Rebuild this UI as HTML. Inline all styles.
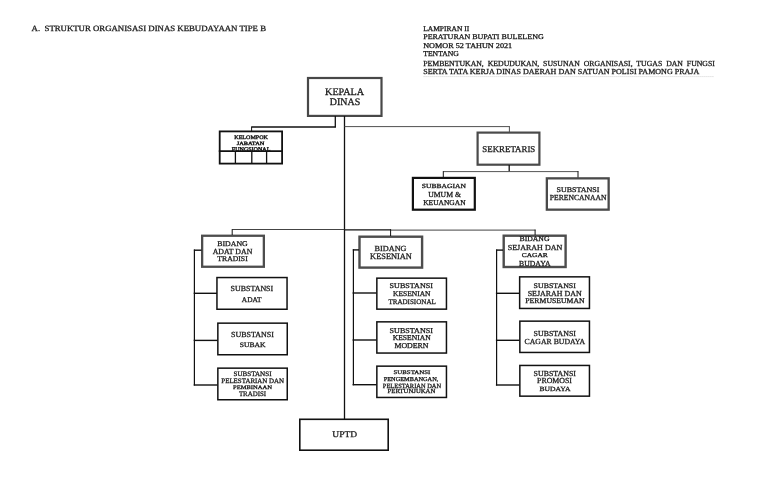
<!DOCTYPE html><html><head><meta charset="utf-8"><style>html,body{margin:0;padding:0;background:#fff;width:770px;height:480px;overflow:hidden}svg{display:block}text{font-family:"Liberation Serif",serif;white-space:pre;text-rendering:geometricPrecision}svg{will-change:transform}</style></head><body>
<svg width="770" height="480" viewBox="0 0 770 480">
<rect x="0" y="0" width="770" height="480" fill="#fff"/>
<line x1="423.5" y1="76.6" x2="714" y2="76.6" stroke="#c8c8c8" stroke-width="0.7" stroke-dasharray="1.2 0.8"/>
<rect x="308.00" y="78.00" width="73.50" height="37.90" fill="none" stroke="#484848" stroke-width="2.2"/>
<rect x="219.70" y="131.40" width="62.40" height="32.20" fill="none" stroke="#111" stroke-width="1.8"/>
<rect x="477.60" y="132.60" width="61.80" height="32.10" fill="none" stroke="#4a4a4a" stroke-width="2.2"/>
<rect x="412.90" y="177.90" width="61.90" height="31.80" fill="none" stroke="#111" stroke-width="2.2"/>
<rect x="546.85" y="178.35" width="61.80" height="31.30" fill="none" stroke="#4a4a4a" stroke-width="2.3"/>
<rect x="202.15" y="235.75" width="61.70" height="31.00" fill="none" stroke="#4d4d4d" stroke-width="2.3"/>
<rect x="359.50" y="236.70" width="62.60" height="30.90" fill="none" stroke="#4d4d4d" stroke-width="2.4"/>
<rect x="503.70" y="235.70" width="61.90" height="31.30" fill="none" stroke="#4d4d4d" stroke-width="2.4"/>
<rect x="216.95" y="277.55" width="70.10" height="31.70" fill="none" stroke="#111" stroke-width="1.5"/>
<rect x="217.85" y="323.15" width="69.40" height="31.60" fill="none" stroke="#111" stroke-width="1.5"/>
<rect x="217.85" y="368.15" width="69.40" height="31.60" fill="none" stroke="#111" stroke-width="1.5"/>
<rect x="376.85" y="278.15" width="69.60" height="31.00" fill="none" stroke="#111" stroke-width="1.5"/>
<rect x="376.85" y="321.85" width="69.60" height="31.20" fill="none" stroke="#111" stroke-width="1.5"/>
<rect x="376.85" y="366.15" width="69.60" height="31.30" fill="none" stroke="#111" stroke-width="1.5"/>
<rect x="519.65" y="276.85" width="69.80" height="31.60" fill="none" stroke="#111" stroke-width="1.5"/>
<rect x="519.85" y="321.15" width="69.60" height="31.30" fill="none" stroke="#111" stroke-width="1.5"/>
<rect x="519.85" y="365.45" width="69.60" height="30.70" fill="none" stroke="#111" stroke-width="1.5"/>
<rect x="299.80" y="419.30" width="88.40" height="30.90" fill="none" stroke="#111" stroke-width="1.6"/>
<line x1="344.5" y1="116" x2="344.5" y2="419.5" stroke="#111" stroke-width="1.3"/>
<line x1="335.3" y1="116" x2="335.3" y2="127.2" stroke="#111" stroke-width="1.3"/>
<line x1="251.6" y1="127" x2="335.9" y2="127" stroke="#111" stroke-width="1.3"/>
<line x1="251.6" y1="126.5" x2="251.6" y2="131.5" stroke="#111" stroke-width="1.0"/>
<line x1="344.5" y1="126.6" x2="509.6" y2="126.6" stroke="#505050" stroke-width="1.0"/>
<line x1="509.4" y1="126.1" x2="509.4" y2="132" stroke="#505050" stroke-width="1.0"/>
<line x1="509.2" y1="165" x2="509.2" y2="171.6" stroke="#111" stroke-width="1.3"/>
<line x1="443.3" y1="171.6" x2="578.3" y2="171.6" stroke="#555" stroke-width="1.0"/>
<line x1="443.3" y1="171.1" x2="443.3" y2="177.5" stroke="#111" stroke-width="1.0"/>
<line x1="578.0" y1="171.1" x2="578.0" y2="177.5" stroke="#111" stroke-width="1.0"/>
<line x1="232.2" y1="229.5" x2="344.5" y2="229.5" stroke="#444" stroke-width="1.0"/>
<line x1="344.5" y1="229.8" x2="390.6" y2="229.8" stroke="#111" stroke-width="1.3"/>
<line x1="390.6" y1="230.1" x2="535.5" y2="230.1" stroke="#444" stroke-width="1.0"/>
<line x1="232.2" y1="229.1" x2="232.2" y2="235" stroke="#111" stroke-width="1.0"/>
<line x1="390.6" y1="229.1" x2="390.6" y2="236" stroke="#111" stroke-width="1.0"/>
<line x1="535.1" y1="229.6" x2="535.1" y2="235" stroke="#111" stroke-width="1.0"/>
<line x1="194.4" y1="249.5" x2="194.4" y2="385.6" stroke="#111" stroke-width="1.2"/>
<line x1="193.9" y1="250.2" x2="201.5" y2="250.2" stroke="#111" stroke-width="1.4"/>
<line x1="193.7" y1="293.3" x2="217" y2="293.3" stroke="#111" stroke-width="1.4"/>
<line x1="193.7" y1="340.4" x2="217.5" y2="340.4" stroke="#111" stroke-width="1.4"/>
<line x1="193.7" y1="385.0" x2="217.5" y2="385.0" stroke="#111" stroke-width="1.4"/>
<line x1="353.4" y1="249.3" x2="353.4" y2="385.3" stroke="#111" stroke-width="1.2"/>
<line x1="352.8" y1="249.9" x2="359" y2="249.9" stroke="#111" stroke-width="1.4"/>
<line x1="352.6" y1="293.0" x2="376.5" y2="293.0" stroke="#111" stroke-width="1.4"/>
<line x1="352.6" y1="340.0" x2="376.5" y2="340.0" stroke="#111" stroke-width="1.4"/>
<line x1="352.6" y1="384.7" x2="376.5" y2="384.7" stroke="#111" stroke-width="1.4"/>
<line x1="496.6" y1="249.5" x2="496.6" y2="385.6" stroke="#111" stroke-width="1.2"/>
<line x1="496.1" y1="250.1" x2="503" y2="250.1" stroke="#111" stroke-width="1.4"/>
<line x1="495.9" y1="293.3" x2="519.5" y2="293.3" stroke="#111" stroke-width="1.4"/>
<line x1="495.9" y1="340.3" x2="519.5" y2="340.3" stroke="#111" stroke-width="1.4"/>
<line x1="495.9" y1="385.0" x2="519.5" y2="385.0" stroke="#111" stroke-width="1.4"/>
<line x1="218.8" y1="151.1" x2="283" y2="151.1" stroke="#111" stroke-width="1.8"/>
<line x1="235.4" y1="151" x2="235.4" y2="164" stroke="#111" stroke-width="1.3"/>
<line x1="251.8" y1="151" x2="251.8" y2="164" stroke="#111" stroke-width="1.3"/>
<line x1="266.6" y1="151" x2="266.6" y2="164" stroke="#111" stroke-width="1.3"/>
<text x="31.60" y="30.90" font-size="8.09" textLength="234.40" lengthAdjust="spacingAndGlyphs" fill="#1a1a1a" stroke="#1a1a1a" stroke-width="0.28">A.  STRUKTUR ORGANISASI DINAS KEBUDAYAAN TIPE B</text>
<text x="423.20" y="30.60" font-size="7.33" textLength="46.10" lengthAdjust="spacingAndGlyphs" fill="#1a1a1a" stroke="#1a1a1a" stroke-width="0.28">LAMPIRAN II</text>
<text x="423.20" y="39.20" font-size="7.18" textLength="120.50" lengthAdjust="spacingAndGlyphs" fill="#1a1a1a" stroke="#1a1a1a" stroke-width="0.28">PERATURAN BUPATI BULELENG</text>
<text x="423.20" y="47.90" font-size="7.33" textLength="89.00" lengthAdjust="spacingAndGlyphs" fill="#1a1a1a" stroke="#1a1a1a" stroke-width="0.28">NOMOR 52 TAHUN 2021</text>
<text x="423.20" y="56.10" font-size="7.48" textLength="35.70" lengthAdjust="spacingAndGlyphs" fill="#1a1a1a" stroke="#1a1a1a" stroke-width="0.28">TENTANG</text>
<text x="423.20" y="65.50" font-size="7.76" textLength="291.70" lengthAdjust="spacingAndGlyphs" fill="#1a1a1a" stroke="#1a1a1a" stroke-width="0.28">PEMBENTUKAN,  KEDUDUKAN,  SUSUNAN  ORGANISASI,  TUGAS  DAN  FUNGSI</text>
<text x="423.20" y="73.50" font-size="7.63" textLength="276.10" lengthAdjust="spacingAndGlyphs" fill="#1a1a1a" stroke="#1a1a1a" stroke-width="0.28">SERTA TATA KERJA DINAS DAERAH DAN SATUAN POLISI PAMONG PRAJA</text>
<text x="325.10" y="94.80" font-size="10.12" textLength="39.00" lengthAdjust="spacingAndGlyphs" fill="#1a1a1a" stroke="#1a1a1a" stroke-width="0.28">KEPALA</text>
<text x="329.80" y="105.30" font-size="9.95" textLength="30.40" lengthAdjust="spacingAndGlyphs" fill="#1a1a1a" stroke="#1a1a1a" stroke-width="0.28">DINAS</text>
<text x="234.30" y="138.90" font-size="5.34" textLength="33.60" lengthAdjust="spacingAndGlyphs" fill="#1a1a1a" stroke="#1a1a1a" stroke-width="0.4">KELOMPOK</text>
<text x="236.80" y="145.00" font-size="4.89" textLength="27.50" lengthAdjust="spacingAndGlyphs" fill="#1a1a1a" stroke="#1a1a1a" stroke-width="0.4">JABATAN</text>
<text x="231.80" y="150.50" font-size="5.65" textLength="38.60" lengthAdjust="spacingAndGlyphs" fill="#1a1a1a" stroke="#1a1a1a" stroke-width="0.4">FUNGSIONAL</text>
<text x="482.30" y="151.60" font-size="8.85" textLength="53.00" lengthAdjust="spacingAndGlyphs" fill="#1a1a1a" stroke="#1a1a1a" stroke-width="0.28">SEKRETARIS</text>
<text x="421.80" y="187.60" font-size="6.26" textLength="44.10" lengthAdjust="spacingAndGlyphs" fill="#1a1a1a" stroke="#1a1a1a" stroke-width="0.28">SUBBAGIAN</text>
<text x="428.20" y="196.70" font-size="7.63" textLength="32.70" lengthAdjust="spacingAndGlyphs" fill="#1a1a1a" stroke="#1a1a1a" stroke-width="0.28">UMUM &amp;</text>
<text x="423.20" y="204.50" font-size="7.48" textLength="42.40" lengthAdjust="spacingAndGlyphs" fill="#1a1a1a" stroke="#1a1a1a" stroke-width="0.28">KEUANGAN</text>
<text x="556.60" y="192.20" font-size="7.18" textLength="42.80" lengthAdjust="spacingAndGlyphs" fill="#1a1a1a" stroke="#1a1a1a" stroke-width="0.28">SUBSTANSI</text>
<text x="549.80" y="199.90" font-size="7.63" textLength="56.80" lengthAdjust="spacingAndGlyphs" fill="#1a1a1a" stroke="#1a1a1a" stroke-width="0.28">PERENCANAAN</text>
<text x="217.30" y="245.60" font-size="7.18" textLength="30.40" lengthAdjust="spacingAndGlyphs" fill="#1a1a1a" stroke="#1a1a1a" stroke-width="0.28">BIDANG</text>
<text x="212.70" y="253.80" font-size="7.82" textLength="39.60" lengthAdjust="spacingAndGlyphs" fill="#1a1a1a" stroke="#1a1a1a" stroke-width="0.28">ADAT DAN</text>
<text x="217.30" y="260.70" font-size="7.33" textLength="30.40" lengthAdjust="spacingAndGlyphs" fill="#1a1a1a" stroke="#1a1a1a" stroke-width="0.28">TRADISI</text>
<text x="374.60" y="250.60" font-size="7.79" textLength="31.90" lengthAdjust="spacingAndGlyphs" fill="#1a1a1a" stroke="#1a1a1a" stroke-width="0.28">BIDANG</text>
<text x="370.10" y="258.80" font-size="8.24" textLength="41.80" lengthAdjust="spacingAndGlyphs" fill="#1a1a1a" stroke="#1a1a1a" stroke-width="0.28">KESENIAN</text>
<text x="519.50" y="241.40" font-size="7.02" textLength="30.00" lengthAdjust="spacingAndGlyphs" fill="#1a1a1a" stroke="#1a1a1a" stroke-width="0.28">BIDANG</text>
<text x="507.70" y="250.00" font-size="7.63" textLength="54.60" lengthAdjust="spacingAndGlyphs" fill="#1a1a1a" stroke="#1a1a1a" stroke-width="0.28">SEJARAH DAN</text>
<text x="521.80" y="257.10" font-size="5.95" textLength="25.90" lengthAdjust="spacingAndGlyphs" fill="#1a1a1a" stroke="#1a1a1a" stroke-width="0.28">CAGAR</text>
<text x="519.10" y="265.50" font-size="7.63" textLength="31.40" lengthAdjust="spacingAndGlyphs" fill="#1a1a1a" stroke="#1a1a1a" stroke-width="0.28">BUDAYA</text>
<text x="230.60" y="290.80" font-size="7.79" textLength="42.60" lengthAdjust="spacingAndGlyphs" fill="#1a1a1a" stroke="#1a1a1a" stroke-width="0.28">SUBSTANSI</text>
<text x="241.80" y="301.80" font-size="7.39" textLength="19.70" lengthAdjust="spacingAndGlyphs" fill="#1a1a1a" stroke="#1a1a1a" stroke-width="0.28">ADAT</text>
<text x="231.00" y="336.60" font-size="7.79" textLength="42.90" lengthAdjust="spacingAndGlyphs" fill="#1a1a1a" stroke="#1a1a1a" stroke-width="0.28">SUBSTANSI</text>
<text x="239.80" y="346.80" font-size="6.72" textLength="25.80" lengthAdjust="spacingAndGlyphs" fill="#1a1a1a" stroke="#1a1a1a" stroke-width="0.28">SUBAK</text>
<text x="233.50" y="375.70" font-size="6.72" textLength="38.00" lengthAdjust="spacingAndGlyphs" fill="#1a1a1a" stroke="#1a1a1a" stroke-width="0.28">SUBSTANSI</text>
<text x="221.30" y="383.00" font-size="6.72" textLength="62.80" lengthAdjust="spacingAndGlyphs" fill="#1a1a1a" stroke="#1a1a1a" stroke-width="0.28">PELESTARIAN DAN</text>
<text x="233.00" y="388.90" font-size="5.50" textLength="39.00" lengthAdjust="spacingAndGlyphs" fill="#1a1a1a" stroke="#1a1a1a" stroke-width="0.28">PEMBINAAN</text>
<text x="238.90" y="396.00" font-size="6.90" textLength="27.20" lengthAdjust="spacingAndGlyphs" fill="#1a1a1a" stroke="#1a1a1a" stroke-width="0.28">TRADISI</text>
<text x="389.60" y="288.40" font-size="7.33" textLength="43.30" lengthAdjust="spacingAndGlyphs" fill="#1a1a1a" stroke="#1a1a1a" stroke-width="0.28">SUBSTANSI</text>
<text x="393.00" y="295.90" font-size="7.33" textLength="37.50" lengthAdjust="spacingAndGlyphs" fill="#1a1a1a" stroke="#1a1a1a" stroke-width="0.28">KESENIAN</text>
<text x="388.40" y="303.70" font-size="7.05" textLength="47.40" lengthAdjust="spacingAndGlyphs" fill="#1a1a1a" stroke="#1a1a1a" stroke-width="0.28">TRADISIONAL</text>
<text x="389.60" y="332.60" font-size="7.48" textLength="43.30" lengthAdjust="spacingAndGlyphs" fill="#1a1a1a" stroke="#1a1a1a" stroke-width="0.28">SUBSTANSI</text>
<text x="392.70" y="340.40" font-size="7.48" textLength="38.00" lengthAdjust="spacingAndGlyphs" fill="#1a1a1a" stroke="#1a1a1a" stroke-width="0.28">KESENIAN</text>
<text x="394.40" y="347.70" font-size="7.48" textLength="34.10" lengthAdjust="spacingAndGlyphs" fill="#1a1a1a" stroke="#1a1a1a" stroke-width="0.28">MODERN</text>
<text x="393.50" y="373.90" font-size="5.50" textLength="36.80" lengthAdjust="spacingAndGlyphs" fill="#1a1a1a" stroke="#1a1a1a" stroke-width="0.28">SUBSTANSI</text>
<text x="383.70" y="381.00" font-size="5.95" textLength="54.60" lengthAdjust="spacingAndGlyphs" fill="#1a1a1a" stroke="#1a1a1a" stroke-width="0.28">PENGEMBANGAN,</text>
<text x="382.80" y="387.80" font-size="6.45" textLength="58.40" lengthAdjust="spacingAndGlyphs" fill="#1a1a1a" stroke="#1a1a1a" stroke-width="0.28">PELESTARIAN DAN</text>
<text x="387.60" y="393.40" font-size="6.26" textLength="47.70" lengthAdjust="spacingAndGlyphs" fill="#1a1a1a" stroke="#1a1a1a" stroke-width="0.28">PERTUNJUKAN</text>
<text x="533.60" y="287.60" font-size="7.02" textLength="42.30" lengthAdjust="spacingAndGlyphs" fill="#1a1a1a" stroke="#1a1a1a" stroke-width="0.28">SUBSTANSI</text>
<text x="527.70" y="295.60" font-size="7.63" textLength="54.10" lengthAdjust="spacingAndGlyphs" fill="#1a1a1a" stroke="#1a1a1a" stroke-width="0.28">SEJARAH DAN</text>
<text x="525.30" y="302.70" font-size="7.33" textLength="59.40" lengthAdjust="spacingAndGlyphs" fill="#1a1a1a" stroke="#1a1a1a" stroke-width="0.28">PERMUSEUMAN</text>
<text x="533.60" y="335.50" font-size="7.63" textLength="42.30" lengthAdjust="spacingAndGlyphs" fill="#1a1a1a" stroke="#1a1a1a" stroke-width="0.28">SUBSTANSI</text>
<text x="524.60" y="343.50" font-size="7.74" textLength="60.60" lengthAdjust="spacingAndGlyphs" fill="#1a1a1a" stroke="#1a1a1a" stroke-width="0.28">CAGAR BUDAYA</text>
<text x="533.60" y="375.60" font-size="7.63" textLength="42.30" lengthAdjust="spacingAndGlyphs" fill="#1a1a1a" stroke="#1a1a1a" stroke-width="0.28">SUBSTANSI</text>
<text x="537.00" y="383.20" font-size="7.79" textLength="35.00" lengthAdjust="spacingAndGlyphs" fill="#1a1a1a" stroke="#1a1a1a" stroke-width="0.28">PROMOSI</text>
<text x="539.40" y="391.00" font-size="6.41" textLength="31.00" lengthAdjust="spacingAndGlyphs" fill="#1a1a1a" stroke="#1a1a1a" stroke-width="0.28">BUDAYA</text>
<text x="332.30" y="436.70" font-size="8.70" textLength="24.70" lengthAdjust="spacingAndGlyphs" fill="#1a1a1a" stroke="#1a1a1a" stroke-width="0.28">UPTD</text>
</svg></body></html>
